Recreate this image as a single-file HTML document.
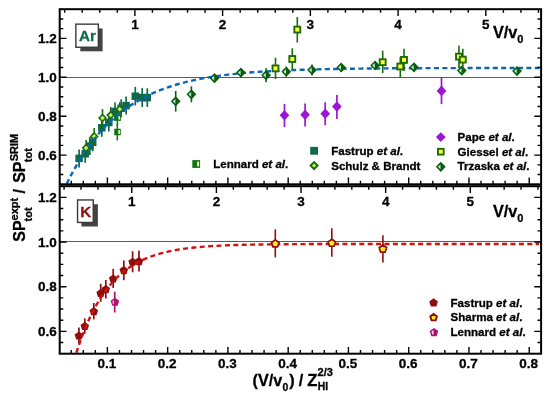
<!DOCTYPE html><html><head><meta charset="utf-8"><title>Stopping power ratio</title><style>html,body{margin:0;padding:0;background:#fff}svg{display:block}</style></head><body><svg width="550" height="397" viewBox="0 0 550 397"><defs><clipPath id="c1"><rect x="59.7" y="9.2" width="481.4" height="175.1"/></clipPath></defs><rect width="550" height="397" fill="#fff"/><path d="M59.7 77.5H541.1M59.7 241.55H541.1" stroke="#5c5c5c" stroke-width="1.1" fill="none"/>
<path d="M79.1 149.4V167.4" stroke="#0f6a4c" stroke-width="1.7"/>
<rect x="75.35" y="154.65" width="7.5" height="7.5" fill="#0f6a4c"/>
<path d="M85.2 144.8V162.8" stroke="#0f6a4c" stroke-width="1.7"/>
<rect x="81.45" y="150.05" width="7.5" height="7.5" fill="#0f6a4c"/>
<path d="M89.8 137.0V155.0" stroke="#0f6a4c" stroke-width="1.7"/>
<rect x="86.05" y="142.25" width="7.5" height="7.5" fill="#0f6a4c"/>
<path d="M92.7 133.3V151.3" stroke="#0f6a4c" stroke-width="1.7"/>
<rect x="88.95" y="138.55" width="7.5" height="7.5" fill="#0f6a4c"/>
<path d="M101.8 118.8V136.8" stroke="#0f6a4c" stroke-width="1.7"/>
<rect x="98.05" y="124.05" width="7.5" height="7.5" fill="#0f6a4c"/>
<path d="M108.8 113.5V131.5" stroke="#0f6a4c" stroke-width="1.7"/>
<rect x="105.05" y="118.75" width="7.5" height="7.5" fill="#0f6a4c"/>
<path d="M115.0 102.5V120.5" stroke="#0f6a4c" stroke-width="1.7"/>
<rect x="111.25" y="107.75" width="7.5" height="7.5" fill="#0f6a4c"/>
<path d="M121.2 99.3V117.3" stroke="#0f6a4c" stroke-width="1.7"/>
<rect x="117.45" y="104.55" width="7.5" height="7.5" fill="#0f6a4c"/>
<path d="M126.1 96.6V114.6" stroke="#0f6a4c" stroke-width="1.7"/>
<rect x="122.35" y="101.85" width="7.5" height="7.5" fill="#0f6a4c"/>
<path d="M135.3 86.9V105.5" stroke="#0f6a4c" stroke-width="1.7"/>
<rect x="131.55" y="92.45" width="7.5" height="7.5" fill="#0f6a4c"/>
<path d="M142.2 88.1V107.1" stroke="#0f6a4c" stroke-width="1.7"/>
<rect x="138.45" y="93.85" width="7.5" height="7.5" fill="#0f6a4c"/>
<path d="M147.3 88.3V106.9" stroke="#0f6a4c" stroke-width="1.7"/>
<rect x="143.55" y="93.85" width="7.5" height="7.5" fill="#0f6a4c"/>
<rect x="114.35" y="114.35" width="6.5" height="6.5" fill="#117410"/>
<rect x="118.38" y="115.65" width="1.62" height="3.90" fill="#fffbd0"/>
<path d="M117.4 109.6V125.6" stroke="#117410" stroke-width="1.5"/>
<rect x="114.25" y="128.75" width="6.5" height="6.5" fill="#117410"/>
<rect x="118.28" y="130.05" width="1.62" height="3.90" fill="#fffbd0"/>
<path d="M117.3 123.6V140.4" stroke="#117410" stroke-width="1.5"/>
<path d="M86.1 140.0V156.0" stroke="#1a6a0e" stroke-width="1.6"/>
<path d="M86.10 144.55L89.50 148.00L86.10 151.45L82.70 148.00Z" fill="#c4f25e" stroke="#1a6a0e" stroke-width="1.6" stroke-linejoin="miter"/>
<path d="M94.2 128.0V145.0" stroke="#1a6a0e" stroke-width="1.6"/>
<path d="M94.20 133.05L97.60 136.50L94.20 139.95L90.80 136.50Z" fill="#c4f25e" stroke="#1a6a0e" stroke-width="1.6" stroke-linejoin="miter"/>
<path d="M102.5 109.0V127.0" stroke="#1a6a0e" stroke-width="1.6"/>
<path d="M102.50 114.55L105.90 118.00L102.50 121.45L99.10 118.00Z" fill="#c4f25e" stroke="#1a6a0e" stroke-width="1.6" stroke-linejoin="miter"/>
<path d="M110.7 107.1V123.1" stroke="#1a6a0e" stroke-width="1.6"/>
<path d="M110.70 111.65L114.10 115.10L110.70 118.55L107.30 115.10Z" fill="#c4f25e" stroke="#1a6a0e" stroke-width="1.6" stroke-linejoin="miter"/>
<path d="M119.7 102.2V116.2" stroke="#1a6a0e" stroke-width="1.6"/>
<path d="M119.70 105.75L123.10 109.20L119.70 112.65L116.30 109.20Z" fill="#c4f25e" stroke="#1a6a0e" stroke-width="1.6" stroke-linejoin="miter"/>
<g clip-path="url(#c1)">
<path d="M66.72 183.71L69.13 178.88L71.55 174.25L73.96 169.82L76.37 165.57L78.78 161.50L81.19 157.60L83.60 153.86L86.01 150.28L88.42 146.84L90.83 143.55L93.24 140.40L95.65 137.38L98.06 134.48L100.47 131.71L102.88 129.05L105.29 126.50L107.70 124.06L110.11 121.72L112.52 119.48L114.93 117.33L117.34 115.27L119.75 113.30L122.16 111.41L124.57 109.59L126.98 107.86L129.39 106.19L131.81 104.60L134.22 103.07L136.63 101.61L139.04 100.20L141.45 98.86L143.86 97.57L146.27 96.33L148.68 95.15L151.09 94.02L153.50 92.93L155.91 91.89L158.32 90.89L160.73 89.93L163.14 89.02L165.55 88.14L167.96 87.30L170.37 86.49L172.78 85.72L175.19 84.98L177.60 84.27L180.01 83.59L182.42 82.93L184.83 82.31L187.24 81.71L189.65 81.14L192.07 80.59L194.48 80.06L196.89 79.56L199.30 79.07L201.71 78.61L204.12 78.16L206.53 77.74L208.94 77.33L211.35 76.94L213.76 76.56L216.17 76.21L218.58 75.86L220.99 75.53L223.40 75.22L225.81 74.91L228.22 74.62L230.63 74.35L233.04 74.08L235.45 73.82L237.86 73.58L240.27 73.34L242.68 73.12L245.09 72.90L247.50 72.70L249.91 72.50L252.33 72.31L254.74 72.13L257.15 71.95L259.56 71.79L261.97 71.63L264.38 71.47L266.79 71.33L269.20 71.19L271.61 71.05L274.02 70.92L276.43 70.80L278.84 70.68L281.25 70.57L283.66 70.46L286.07 70.35L288.48 70.25L290.89 70.16L293.30 70.07L295.71 69.98L298.12 69.89L300.53 69.81L302.94 69.74L305.35 69.66L307.76 69.59L310.17 69.52L312.59 69.46L315.00 69.39L317.41 69.33L319.82 69.28L322.23 69.22L324.64 69.17L327.05 69.12L329.46 69.07L331.87 69.02L334.28 68.98L336.69 68.94L339.10 68.90L341.51 68.86L343.92 68.82L346.33 68.78L348.74 68.75L351.15 68.72L353.56 68.68L355.97 68.65L358.38 68.62L360.79 68.60L363.20 68.57L365.61 68.54L368.02 68.52L370.43 68.50L372.85 68.47L375.26 68.45L377.67 68.43L380.08 68.41L382.49 68.39L384.90 68.37L387.31 68.36L389.72 68.34L392.13 68.32L394.54 68.31L396.95 68.29L399.36 68.28L401.77 68.27L404.18 68.25L406.59 68.24L409.00 68.23L411.41 68.22L413.82 68.21L416.23 68.20L418.64 68.19L421.05 68.18L423.46 68.17L425.87 68.16L428.28 68.15L430.69 68.14L433.11 68.13L435.52 68.13L437.93 68.12L440.34 68.11L442.75 68.11L445.16 68.10L447.57 68.09L449.98 68.09L452.39 68.08L454.80 68.08L457.21 68.07L459.62 68.07L462.03 68.06L464.44 68.06L466.85 68.05L469.26 68.05L471.67 68.05L474.08 68.04L476.49 68.04L478.90 68.04L481.31 68.03L483.72 68.03L486.13 68.03L488.54 68.02L490.95 68.02L493.37 68.02L495.78 68.01L498.19 68.01L500.60 68.01L503.01 68.01L505.42 68.01L507.83 68.00L510.24 68.00L512.65 68.00L515.06 68.00L517.47 68.00L519.88 67.99L522.29 67.99L524.70 67.99L527.11 67.99L529.52 67.99L531.93 67.99L534.34 67.99L536.75 67.98L539.16 67.98" stroke="#0a66b8" stroke-width="2.4" fill="none" stroke-dasharray="5.0 3.4"/>
</g>
<path d="M175.7 91.0V111.6" stroke="#0b5c0b" stroke-width="1.6"/>
<path d="M175.70 96.20L180.60 101.30L175.70 106.40L170.80 101.30Z" fill="#0b5c0b"/>
<path d="M172.80 101.30L175.40 98.90V103.70Z" fill="#b4f0e2"/>
<path d="M191.4 86.3V102.3" stroke="#0b5c0b" stroke-width="1.6"/>
<path d="M191.40 89.20L196.30 94.30L191.40 99.40L186.50 94.30Z" fill="#0b5c0b"/>
<path d="M188.50 94.30L191.10 91.90V96.70Z" fill="#b4f0e2"/>
<path d="M214.5 74.7V81.7" stroke="#0b5c0b" stroke-width="1.6"/>
<path d="M214.50 73.10L219.40 78.20L214.50 83.30L209.60 78.20Z" fill="#0b5c0b"/>
<path d="M211.60 78.20L214.20 75.80V80.60Z" fill="#b4f0e2"/>
<path d="M240.9 69.6V75.6" stroke="#0b5c0b" stroke-width="1.6"/>
<path d="M240.90 67.50L245.80 72.60L240.90 77.70L236.00 72.60Z" fill="#0b5c0b"/>
<path d="M238.00 72.60L240.60 70.20V75.00Z" fill="#b4f0e2"/>
<path d="M266.1 68.2V82.2" stroke="#0b5c0b" stroke-width="1.6"/>
<path d="M266.10 70.10L271.00 75.20L266.10 80.30L261.20 75.20Z" fill="#0b5c0b"/>
<path d="M263.20 75.20L265.80 72.80V77.60Z" fill="#b4f0e2"/>
<path d="M286.3 66.7V76.7" stroke="#0b5c0b" stroke-width="1.6"/>
<path d="M286.30 66.60L291.20 71.70L286.30 76.80L281.40 71.70Z" fill="#0b5c0b"/>
<path d="M283.40 71.70L286.00 69.30V74.10Z" fill="#b4f0e2"/>
<path d="M312.0 64.5V75.5" stroke="#0b5c0b" stroke-width="1.6"/>
<path d="M312.00 64.90L316.90 70.00L312.00 75.10L307.10 70.00Z" fill="#0b5c0b"/>
<path d="M309.10 70.00L311.70 67.60V72.40Z" fill="#b4f0e2"/>
<path d="M341.2 64.5V70.5" stroke="#0b5c0b" stroke-width="1.6"/>
<path d="M341.20 62.40L346.10 67.50L341.20 72.60L336.30 67.50Z" fill="#0b5c0b"/>
<path d="M338.30 67.50L340.90 65.10V69.90Z" fill="#b4f0e2"/>
<path d="M375.1 62.5V68.5" stroke="#0b5c0b" stroke-width="1.6"/>
<path d="M375.10 60.40L380.00 65.50L375.10 70.60L370.20 65.50Z" fill="#0b5c0b"/>
<path d="M372.20 65.50L374.80 63.10V67.90Z" fill="#b4f0e2"/>
<path d="M414.0 64.3V70.3" stroke="#0b5c0b" stroke-width="1.6"/>
<path d="M414.00 62.20L418.90 67.30L414.00 72.40L409.10 67.30Z" fill="#0b5c0b"/>
<path d="M411.10 67.30L413.70 64.90V69.70Z" fill="#b4f0e2"/>
<path d="M461.8 67.6V73.6" stroke="#0b5c0b" stroke-width="1.6"/>
<path d="M461.80 65.50L466.70 70.60L461.80 75.70L456.90 70.60Z" fill="#0b5c0b"/>
<path d="M458.90 70.60L461.50 68.20V73.00Z" fill="#b4f0e2"/>
<path d="M517.0 68.1V74.1" stroke="#0b5c0b" stroke-width="1.6"/>
<path d="M517.00 66.00L521.90 71.10L517.00 76.20L512.10 71.10Z" fill="#0b5c0b"/>
<path d="M514.10 71.10L516.70 68.70V73.50Z" fill="#b4f0e2"/>
<path d="M275.5 57.8V79.0" stroke="#1a6a0e" stroke-width="1.6"/>
<rect x="272.55" y="65.45" width="5.9" height="5.9" fill="#ffff2a" stroke="#1a6a0e" stroke-width="1.9"/>
<path d="M292.3 48.3V69.8" stroke="#1a6a0e" stroke-width="1.6"/>
<rect x="289.35" y="56.05" width="5.9" height="5.9" fill="#ffff2a" stroke="#1a6a0e" stroke-width="1.9"/>
<path d="M297.3 17.0V42.5" stroke="#1a6a0e" stroke-width="1.6"/>
<rect x="294.35" y="26.65" width="5.9" height="5.9" fill="#ffff2a" stroke="#1a6a0e" stroke-width="1.9"/>
<path d="M382.7 50.7V73.1" stroke="#1a6a0e" stroke-width="1.6"/>
<rect x="379.75" y="59.25" width="5.9" height="5.9" fill="#ffff2a" stroke="#1a6a0e" stroke-width="1.9"/>
<path d="M400.3 57.0V77.4" stroke="#1a6a0e" stroke-width="1.6"/>
<rect x="397.35" y="63.55" width="5.9" height="5.9" fill="#ffff2a" stroke="#1a6a0e" stroke-width="1.9"/>
<path d="M404.0 48.7V71.0" stroke="#1a6a0e" stroke-width="1.6"/>
<rect x="401.05" y="56.95" width="5.9" height="5.9" fill="#ffff2a" stroke="#1a6a0e" stroke-width="1.9"/>
<path d="M459.0 45.6V68.0" stroke="#1a6a0e" stroke-width="1.6"/>
<rect x="456.05" y="53.65" width="5.9" height="5.9" fill="#ffff2a" stroke="#1a6a0e" stroke-width="1.9"/>
<path d="M462.8 48.7V69.8" stroke="#1a6a0e" stroke-width="1.6"/>
<rect x="459.85" y="56.65" width="5.9" height="5.9" fill="#ffff2a" stroke="#1a6a0e" stroke-width="1.9"/>
<path d="M284.5 104.0V127.0" stroke="#9b16d2" stroke-width="1.7"/>
<path d="M284.50 109.90L289.30 115.20L284.50 120.50L279.70 115.20Z" fill="#9b16d2"/>
<path d="M305.1 103.5V126.6" stroke="#9b16d2" stroke-width="1.7"/>
<path d="M305.10 109.40L309.90 114.70L305.10 120.00L300.30 114.70Z" fill="#9b16d2"/>
<path d="M325.2 102.3V125.2" stroke="#9b16d2" stroke-width="1.7"/>
<path d="M325.20 108.50L330.00 113.80L325.20 119.10L320.40 113.80Z" fill="#9b16d2"/>
<path d="M336.9 94.9V119.0" stroke="#9b16d2" stroke-width="1.7"/>
<path d="M336.90 101.30L341.70 106.60L336.90 111.90L332.10 106.60Z" fill="#9b16d2"/>
<path d="M441.5 77.4V104.1" stroke="#9b16d2" stroke-width="1.7"/>
<path d="M441.50 85.60L446.30 90.90L441.50 96.20L436.70 90.90Z" fill="#9b16d2"/>
<path d="M78.9 327.4V343.6" stroke="#8e0e0e" stroke-width="1.7"/>
<path d="M78.90 331.40L83.18 334.51L81.55 339.54L76.25 339.54L74.62 334.51Z" fill="#8e0e0e"/>
<path d="M84.8 318.4V333.6" stroke="#8e0e0e" stroke-width="1.7"/>
<path d="M84.80 321.90L89.08 325.01L87.45 330.04L82.15 330.04L80.52 325.01Z" fill="#8e0e0e"/>
<path d="M93.8 303.0V319.4" stroke="#8e0e0e" stroke-width="1.7"/>
<path d="M93.80 307.10L98.08 310.21L96.45 315.24L91.15 315.24L89.52 310.21Z" fill="#8e0e0e"/>
<path d="M100.7 283.8V301.8" stroke="#8e0e0e" stroke-width="1.7"/>
<path d="M100.70 288.80L104.98 291.91L103.35 296.94L98.05 296.94L96.42 291.91Z" fill="#8e0e0e"/>
<path d="M105.8 280.0V298.5" stroke="#8e0e0e" stroke-width="1.7"/>
<path d="M105.80 285.00L110.08 288.11L108.45 293.14L103.15 293.14L101.52 288.11Z" fill="#8e0e0e"/>
<path d="M113.2 268.9V287.9" stroke="#8e0e0e" stroke-width="1.7"/>
<path d="M113.20 274.40L117.48 277.51L115.85 282.54L110.55 282.54L108.92 277.51Z" fill="#8e0e0e"/>
<path d="M123.8 260.4V280.2" stroke="#8e0e0e" stroke-width="1.7"/>
<path d="M123.80 266.00L128.08 269.11L126.45 274.14L121.15 274.14L119.52 269.11Z" fill="#8e0e0e"/>
<path d="M132.6 251.2V272.3" stroke="#8e0e0e" stroke-width="1.7"/>
<path d="M132.60 257.70L136.88 260.81L135.25 265.84L129.95 265.84L128.32 260.81Z" fill="#8e0e0e"/>
<path d="M139.0 250.5V271.6" stroke="#8e0e0e" stroke-width="1.7"/>
<path d="M139.00 257.00L143.28 260.11L141.65 265.14L136.35 265.14L134.72 260.11Z" fill="#8e0e0e"/>
<path d="M114.90 297.70L119.18 300.81L117.55 305.84L112.25 305.84L110.62 300.81Z" fill="#ae1070"/>
<path d="M112.40 301.30L114.40 299.70V304.20H113.10Z" fill="#ffd9ec"/>
<path d="M114.7 291.7V312.5" stroke="#ae1070" stroke-width="1.7"/>
<path d="M76.37 352.75L78.78 345.43L81.19 338.60L83.60 332.23L86.01 326.29L88.42 320.75L90.83 315.58L93.24 310.76L95.65 306.27L98.06 302.08L100.47 298.16L102.88 294.52L105.29 291.11L107.70 287.94L110.11 284.98L112.52 282.22L114.93 279.64L117.34 277.24L119.75 275.00L122.16 272.91L124.57 270.96L126.98 269.14L129.39 267.45L131.81 265.86L134.22 264.39L136.63 263.01L139.04 261.73L141.45 260.53L143.86 259.41L146.27 258.37L148.68 257.40L151.09 256.50L153.50 255.65L155.91 254.86L158.32 254.13L160.73 253.44L163.14 252.80L165.55 252.20L167.96 251.65L170.37 251.13L172.78 250.64L175.19 250.19L177.60 249.77L180.01 249.38L182.42 249.01L184.83 248.67L187.24 248.35L189.65 248.05L192.07 247.78L194.48 247.52L196.89 247.28L199.30 247.05L201.71 246.84L204.12 246.65L206.53 246.46L208.94 246.29L211.35 246.13L213.76 245.99L216.17 245.85L218.58 245.72L220.99 245.60L223.40 245.49L225.81 245.38L228.22 245.28L230.63 245.19L233.04 245.11L235.45 245.03L237.86 244.96L240.27 244.89L242.68 244.82L245.09 244.76L247.50 244.71L249.91 244.65L252.33 244.61L254.74 244.56L257.15 244.52L259.56 244.48L261.97 244.44L264.38 244.41L266.79 244.38L269.20 244.35L271.61 244.32L274.02 244.29L276.43 244.27L278.84 244.25L281.25 244.22L283.66 244.20L286.07 244.19L288.48 244.17L290.89 244.15L293.30 244.14L295.71 244.12L298.12 244.11L300.53 244.10L302.94 244.09L305.35 244.08L307.76 244.07L310.17 244.06L312.59 244.05L315.00 244.04L317.41 244.03L319.82 244.03L322.23 244.02L324.64 244.02L327.05 244.01L329.46 244.00L331.87 244.00L334.28 243.99L336.69 243.99L339.10 243.99L341.51 243.98L343.92 243.98L346.33 243.98L348.74 243.97L351.15 243.97L353.56 243.97L355.97 243.97L358.38 243.96L360.79 243.96L363.20 243.96L365.61 243.96L368.02 243.96L370.43 243.95L372.85 243.95L375.26 243.95L377.67 243.95L380.08 243.95L382.49 243.95L384.90 243.95L387.31 243.95L389.72 243.94L392.13 243.94L394.54 243.94L396.95 243.94L399.36 243.94L401.77 243.94L404.18 243.94L406.59 243.94L409.00 243.94L411.41 243.94L413.82 243.94L416.23 243.94L418.64 243.94L421.05 243.94L423.46 243.94L425.87 243.94L428.28 243.94L430.69 243.94L433.11 243.94L435.52 243.94L437.93 243.93L440.34 243.93L442.75 243.93L445.16 243.93L447.57 243.93L449.98 243.93L452.39 243.93L454.80 243.93L457.21 243.93L459.62 243.93L462.03 243.93L464.44 243.93L466.85 243.93L469.26 243.93L471.67 243.93L474.08 243.93L476.49 243.93L478.90 243.93L481.31 243.93L483.72 243.93L486.13 243.93L488.54 243.93L490.95 243.93L493.37 243.93L495.78 243.93L498.19 243.93L500.60 243.93L503.01 243.93L505.42 243.93L507.83 243.93L510.24 243.93L512.65 243.93L515.06 243.93L517.47 243.93L519.88 243.93L522.29 243.93L524.70 243.93L527.11 243.93L529.52 243.93L531.93 243.93L534.34 243.93L536.75 243.93L539.16 243.93" stroke="#d40f0f" stroke-width="2.4" fill="none" stroke-dasharray="5.0 3.4"/>
<path d="M275.3 229.4V257.4" stroke="#8e0e0e" stroke-width="1.6"/>
<path d="M275.30 239.90L279.01 242.59L277.59 246.96L273.01 246.96L271.59 242.59Z" fill="#ffee1a" stroke="#8e0e0e" stroke-width="1.7" stroke-linejoin="miter"/>
<path d="M331.8 228.2V256.7" stroke="#8e0e0e" stroke-width="1.6"/>
<path d="M331.80 239.20L335.51 241.89L334.09 246.26L329.51 246.26L328.09 241.89Z" fill="#ffee1a" stroke="#8e0e0e" stroke-width="1.7" stroke-linejoin="miter"/>
<path d="M382.9 235.3V262.5" stroke="#8e0e0e" stroke-width="1.6"/>
<path d="M382.90 245.00L386.61 247.69L385.19 252.06L380.61 252.06L379.19 247.69Z" fill="#ffee1a" stroke="#8e0e0e" stroke-width="1.7" stroke-linejoin="miter"/>
<path d="M71.24 184.30L71.24 180.70M83.30 184.30L83.30 180.70M95.35 184.30L95.35 180.70M107.40 184.30L107.40 177.50M119.45 184.30L119.45 180.70M131.50 184.30L131.50 180.70M143.56 184.30L143.56 180.70M155.61 184.30L155.61 180.70M167.66 184.30L167.66 177.50M179.71 184.30L179.71 180.70M191.76 184.30L191.76 180.70M203.82 184.30L203.82 180.70M215.87 184.30L215.87 180.70M227.92 184.30L227.92 177.50M239.97 184.30L239.97 180.70M252.02 184.30L252.02 180.70M264.08 184.30L264.08 180.70M276.13 184.30L276.13 180.70M288.18 184.30L288.18 177.50M300.23 184.30L300.23 180.70M312.28 184.30L312.28 180.70M324.34 184.30L324.34 180.70M336.39 184.30L336.39 180.70M348.44 184.30L348.44 177.50M360.49 184.30L360.49 180.70M372.54 184.30L372.54 180.70M384.60 184.30L384.60 180.70M396.65 184.30L396.65 180.70M408.70 184.30L408.70 177.50M420.75 184.30L420.75 180.70M432.80 184.30L432.80 180.70M444.86 184.30L444.86 180.70M456.91 184.30L456.91 180.70M468.96 184.30L468.96 177.50M481.01 184.30L481.01 180.70M493.06 184.30L493.06 180.70M505.12 184.30L505.12 180.70M517.17 184.30L517.17 180.70M529.22 184.30L529.22 177.50M71.24 353.70L71.24 350.10M83.30 353.70L83.30 350.10M95.35 353.70L95.35 350.10M107.40 353.70L107.40 346.90M119.45 353.70L119.45 350.10M131.50 353.70L131.50 350.10M143.56 353.70L143.56 350.10M155.61 353.70L155.61 350.10M167.66 353.70L167.66 346.90M179.71 353.70L179.71 350.10M191.76 353.70L191.76 350.10M203.82 353.70L203.82 350.10M215.87 353.70L215.87 350.10M227.92 353.70L227.92 346.90M239.97 353.70L239.97 350.10M252.02 353.70L252.02 350.10M264.08 353.70L264.08 350.10M276.13 353.70L276.13 350.10M288.18 353.70L288.18 346.90M300.23 353.70L300.23 350.10M312.28 353.70L312.28 350.10M324.34 353.70L324.34 350.10M336.39 353.70L336.39 350.10M348.44 353.70L348.44 346.90M360.49 353.70L360.49 350.10M372.54 353.70L372.54 350.10M384.60 353.70L384.60 350.10M396.65 353.70L396.65 350.10M408.70 353.70L408.70 346.90M420.75 353.70L420.75 350.10M432.80 353.70L432.80 350.10M444.86 353.70L444.86 350.10M456.91 353.70L456.91 350.10M468.96 353.70L468.96 346.90M481.01 353.70L481.01 350.10M493.06 353.70L493.06 350.10M505.12 353.70L505.12 350.10M517.17 353.70L517.17 350.10M529.22 353.70L529.22 346.90M64.69 9.20L64.69 12.80M82.23 9.20L82.23 12.80M99.78 9.20L99.78 12.80M117.33 9.20L117.33 12.80M134.88 9.20L134.88 16.00M152.42 9.20L152.42 12.80M169.97 9.20L169.97 12.80M187.52 9.20L187.52 12.80M205.07 9.20L205.07 12.80M222.61 9.20L222.61 16.00M240.16 9.20L240.16 12.80M257.71 9.20L257.71 12.80M275.26 9.20L275.26 12.80M292.80 9.20L292.80 12.80M310.35 9.20L310.35 16.00M327.90 9.20L327.90 12.80M345.44 9.20L345.44 12.80M362.99 9.20L362.99 12.80M380.54 9.20L380.54 12.80M398.09 9.20L398.09 16.00M415.63 9.20L415.63 12.80M433.18 9.20L433.18 12.80M450.73 9.20L450.73 12.80M468.28 9.20L468.28 12.80M485.82 9.20L485.82 16.00M503.37 9.20L503.37 12.80M520.92 9.20L520.92 12.80M538.46 9.20L538.46 12.80M64.07 186.20L64.07 189.80M80.99 186.20L80.99 189.80M97.92 186.20L97.92 189.80M114.84 186.20L114.84 189.80M131.77 186.20L131.77 193.00M148.70 186.20L148.70 189.80M165.62 186.20L165.62 189.80M182.55 186.20L182.55 189.80M199.47 186.20L199.47 189.80M216.40 186.20L216.40 193.00M233.33 186.20L233.33 189.80M250.25 186.20L250.25 189.80M267.18 186.20L267.18 189.80M284.11 186.20L284.11 189.80M301.03 186.20L301.03 193.00M317.96 186.20L317.96 189.80M334.88 186.20L334.88 189.80M351.81 186.20L351.81 189.80M368.74 186.20L368.74 189.80M385.66 186.20L385.66 193.00M402.59 186.20L402.59 189.80M419.51 186.20L419.51 189.80M436.44 186.20L436.44 189.80M453.37 186.20L453.37 189.80M470.29 186.20L470.29 193.00M487.22 186.20L487.22 189.80M504.14 186.20L504.14 189.80M521.07 186.20L521.07 189.80M538.00 186.20L538.00 189.80M59.70 174.57L63.30 174.57M541.10 174.57L537.50 174.57M59.70 164.84L63.30 164.84M541.10 164.84L537.50 164.84M59.70 155.12L66.50 155.12M541.10 155.12L534.30 155.12M59.70 145.39L63.30 145.39M541.10 145.39L537.50 145.39M59.70 135.66L63.30 135.66M541.10 135.66L537.50 135.66M59.70 125.93L63.30 125.93M541.10 125.93L537.50 125.93M59.70 116.21L66.50 116.21M541.10 116.21L534.30 116.21M59.70 106.48L63.30 106.48M541.10 106.48L537.50 106.48M59.70 96.75L63.30 96.75M541.10 96.75L537.50 96.75M59.70 87.02L63.30 87.02M541.10 87.02L537.50 87.02M59.70 77.29L66.50 77.29M541.10 77.29L534.30 77.29M59.70 67.57L63.30 67.57M541.10 67.57L537.50 67.57M59.70 57.84L63.30 57.84M541.10 57.84L537.50 57.84M59.70 48.11L63.30 48.11M541.10 48.11L537.50 48.11M59.70 38.38L66.50 38.38M541.10 38.38L534.30 38.38M59.70 28.66L63.30 28.66M541.10 28.66L537.50 28.66M59.70 18.93L63.30 18.93M541.10 18.93L537.50 18.93M59.70 342.53L63.30 342.53M541.10 342.53L537.50 342.53M59.70 331.37L66.50 331.37M541.10 331.37L534.30 331.37M59.70 320.20L63.30 320.20M541.10 320.20L537.50 320.20M59.70 309.03L63.30 309.03M541.10 309.03L537.50 309.03M59.70 297.87L63.30 297.87M541.10 297.87L537.50 297.87M59.70 286.70L66.50 286.70M541.10 286.70L534.30 286.70M59.70 275.53L63.30 275.53M541.10 275.53L537.50 275.53M59.70 264.37L63.30 264.37M541.10 264.37L537.50 264.37M59.70 253.20L63.30 253.20M541.10 253.20L537.50 253.20M59.70 242.03L66.50 242.03M541.10 242.03L534.30 242.03M59.70 230.87L63.30 230.87M541.10 230.87L537.50 230.87M59.70 219.70L63.30 219.70M541.10 219.70L537.50 219.70M59.70 208.53L63.30 208.53M541.10 208.53L537.50 208.53M59.70 197.37L66.50 197.37M541.10 197.37L534.30 197.37" stroke="#000" stroke-width="1.4" fill="none"/>
<rect x="59.7" y="9.2" width="481.40" height="175.10" fill="none" stroke="#000" stroke-width="2.0"/>
<rect x="59.7" y="186.2" width="481.40" height="167.50" fill="none" stroke="#000" stroke-width="2.0"/>
<rect x="80.3" y="28.4" width="22.3" height="22.9" fill="#444"/>
<rect x="75.85000000000001" y="24.15" width="22.5" height="23.1" fill="#fff" stroke="#3a3a3a" stroke-width="1.4"/>
<rect x="81.4" y="204.2" width="16.5" height="22.3" fill="#444"/>
<rect x="77.55000000000001" y="199.95000000000002" width="15.7" height="22.5" fill="#fff" stroke="#3a3a3a" stroke-width="1.4"/>
<g font-family="Liberation Sans, Arial, Helvetica, sans-serif" font-weight="bold">
<text x="87.4" y="40.9" font-size="15.2" text-anchor="middle" fill="#0f6a4c" stroke="#0f6a4c" stroke-width="0.3" >Ar</text>
<text x="85.7" y="216.6" font-size="15.2" text-anchor="middle" fill="#8e0e0e" stroke="#8e0e0e" stroke-width="0.3" >K</text>
<text x="56.7" y="42.9" font-size="13.5" text-anchor="end" fill="#000" stroke="#000" stroke-width="0.3" >1.2</text>
<text x="56.7" y="81.8" font-size="13.5" text-anchor="end" fill="#000" stroke="#000" stroke-width="0.3" >1.0</text>
<text x="56.7" y="120.7" font-size="13.5" text-anchor="end" fill="#000" stroke="#000" stroke-width="0.3" >0.8</text>
<text x="56.7" y="159.6" font-size="13.5" text-anchor="end" fill="#000" stroke="#000" stroke-width="0.3" >0.6</text>
<text x="56.7" y="201.9" font-size="13.5" text-anchor="end" fill="#000" stroke="#000" stroke-width="0.3" >1.2</text>
<text x="56.7" y="246.5" font-size="13.5" text-anchor="end" fill="#000" stroke="#000" stroke-width="0.3" >1.0</text>
<text x="56.7" y="291.2" font-size="13.5" text-anchor="end" fill="#000" stroke="#000" stroke-width="0.3" >0.8</text>
<text x="56.7" y="335.9" font-size="13.5" text-anchor="end" fill="#000" stroke="#000" stroke-width="0.3" >0.6</text>
<text x="106.8" y="367.8" font-size="13.5" text-anchor="middle" fill="#000" stroke="#000" stroke-width="0.3" >0.1</text>
<text x="167.1" y="367.8" font-size="13.5" text-anchor="middle" fill="#000" stroke="#000" stroke-width="0.3" >0.2</text>
<text x="227.3" y="367.8" font-size="13.5" text-anchor="middle" fill="#000" stroke="#000" stroke-width="0.3" >0.3</text>
<text x="287.6" y="367.8" font-size="13.5" text-anchor="middle" fill="#000" stroke="#000" stroke-width="0.3" >0.4</text>
<text x="347.8" y="367.8" font-size="13.5" text-anchor="middle" fill="#000" stroke="#000" stroke-width="0.3" >0.5</text>
<text x="408.1" y="367.8" font-size="13.5" text-anchor="middle" fill="#000" stroke="#000" stroke-width="0.3" >0.6</text>
<text x="468.4" y="367.8" font-size="13.5" text-anchor="middle" fill="#000" stroke="#000" stroke-width="0.3" >0.7</text>
<text x="528.6" y="367.8" font-size="13.5" text-anchor="middle" fill="#000" stroke="#000" stroke-width="0.3" >0.8</text>
<text x="134.9" y="29.4" font-size="13.5" text-anchor="middle" fill="#000" stroke="#000" stroke-width="0.3" >1</text>
<text x="131.8" y="205.6" font-size="13.5" text-anchor="middle" fill="#000" stroke="#000" stroke-width="0.3" >1</text>
<text x="222.6" y="29.4" font-size="13.5" text-anchor="middle" fill="#000" stroke="#000" stroke-width="0.3" >2</text>
<text x="216.4" y="205.6" font-size="13.5" text-anchor="middle" fill="#000" stroke="#000" stroke-width="0.3" >2</text>
<text x="310.3" y="29.4" font-size="13.5" text-anchor="middle" fill="#000" stroke="#000" stroke-width="0.3" >3</text>
<text x="301.0" y="205.6" font-size="13.5" text-anchor="middle" fill="#000" stroke="#000" stroke-width="0.3" >3</text>
<text x="398.1" y="29.4" font-size="13.5" text-anchor="middle" fill="#000" stroke="#000" stroke-width="0.3" >4</text>
<text x="385.7" y="205.6" font-size="13.5" text-anchor="middle" fill="#000" stroke="#000" stroke-width="0.3" >4</text>
<text x="485.8" y="29.4" font-size="13.5" text-anchor="middle" fill="#000" stroke="#000" stroke-width="0.3" >5</text>
<text x="470.3" y="205.6" font-size="13.5" text-anchor="middle" fill="#000" stroke="#000" stroke-width="0.3" >5</text>
<text x="492.9" y="38.4" font-size="16.3" stroke="#000" stroke-width="0.3">V/v<tspan font-size="11" dy="5">0</tspan></text>
<text x="492.9" y="216.9" font-size="16.3" stroke="#000" stroke-width="0.3">V/v<tspan font-size="11" dy="5">0</tspan></text>
<text x="213.2" y="168.2" font-size="11.55" text-anchor="start" fill="#000" stroke="#000" stroke-width="0.3" >Lennard <tspan font-style="italic">et al</tspan>.</text>
<text x="331.2" y="155.0" font-size="11.55" text-anchor="start" fill="#000" stroke="#000" stroke-width="0.3" >Fastrup <tspan font-style="italic">et al</tspan>.</text>
<text x="331.2" y="169.9" font-size="11.55" text-anchor="start" fill="#000" stroke="#000" stroke-width="0.3" >Schulz &amp; Brandt</text>
<text x="457.6" y="140.8" font-size="11.55" text-anchor="start" fill="#000" stroke="#000" stroke-width="0.3" >Pape <tspan font-style="italic">et al</tspan>.</text>
<text x="457.6" y="155.7" font-size="11.55" text-anchor="start" fill="#000" stroke="#000" stroke-width="0.3" >Giessel <tspan font-style="italic">et al</tspan>.</text>
<text x="457.6" y="170.4" font-size="11.55" text-anchor="start" fill="#000" stroke="#000" stroke-width="0.3" >Trzaska <tspan font-style="italic">et al</tspan>.</text>
<text x="450.5" y="306.6" font-size="11.55" text-anchor="start" fill="#000" stroke="#000" stroke-width="0.3" >Fastrup <tspan font-style="italic">et al</tspan>.</text>
<text x="450.5" y="321.2" font-size="11.55" text-anchor="start" fill="#000" stroke="#000" stroke-width="0.3" >Sharma <tspan font-style="italic">et al</tspan>.</text>
<text x="450.5" y="336.1" font-size="11.55" text-anchor="start" fill="#000" stroke="#000" stroke-width="0.3" >Lennard <tspan font-style="italic">et al</tspan>.</text>
<text x="252.5" y="386.0" font-size="16.2" text-anchor="start" fill="#000" stroke="#000" stroke-width="0.3" >(V/v</text>
<text x="282.5" y="390.6" font-size="10.3" text-anchor="start" fill="#000" stroke="#000" stroke-width="0.3" >0</text>
<text x="289.2" y="386.0" font-size="16.2" text-anchor="start" fill="#000" stroke="#000" stroke-width="0.3" >)</text>
<text x="298.8" y="386.0" font-size="16.2" text-anchor="start" fill="#000" stroke="#000" stroke-width="0.3" >/</text>
<text x="307.3" y="385.9" font-size="16.6" text-anchor="start" fill="#000" stroke="#000" stroke-width="0.3" >Z</text>
<text x="317.6" y="376.0" font-size="11" text-anchor="start" fill="#000" stroke="#000" stroke-width="0.3" >2/3</text>
<text x="317.8" y="390.1" font-size="10.3" text-anchor="start" fill="#000" stroke="#000" stroke-width="0.3" >HI</text>
<g transform="translate(25.2,241.4) rotate(-90)">
<text x="-0.3" y="0" font-size="16" text-anchor="start" fill="#000" stroke="#000" stroke-width="0.3" >SP</text>
<text x="21.0" y="-7.6" font-size="11" text-anchor="start" fill="#000" stroke="#000" stroke-width="0.3" >expt</text>
<text x="20.0" y="7.0" font-size="11" text-anchor="start" fill="#000" stroke="#000" stroke-width="0.3" >tot</text>
<text x="48.0" y="0" font-size="16" text-anchor="start" fill="#000" stroke="#000" stroke-width="0.3" >/</text>
<text x="58.6" y="0" font-size="16" text-anchor="start" fill="#000" stroke="#000" stroke-width="0.3" >SP</text>
<text x="80.2" y="-7.6" font-size="11" text-anchor="start" fill="#000" stroke="#000" stroke-width="0.3" >SRIM</text>
<text x="79.2" y="7.0" font-size="11" text-anchor="start" fill="#000" stroke="#000" stroke-width="0.3" >tot</text>
</g>
</g>
<rect x="192.30" y="160.10" width="7.8" height="7.8" fill="#117410"/>
<rect x="197.14" y="161.66" width="1.95" height="4.68" fill="#fffbd0"/>
<rect x="310.20" y="146.90" width="7.8" height="7.8" fill="#0f6a4c"/>
<path d="M314.10 162.15L317.55 165.60L314.10 169.05L310.65 165.60Z" fill="#c4f25e" stroke="#1a6a0e" stroke-width="2.0" stroke-linejoin="miter"/>
<path d="M440.80 132.20L445.65 137.10L440.80 142.00L435.95 137.10Z" fill="#9b16d2"/>
<rect x="437.95" y="148.85" width="5.7" height="5.7" fill="#ffff2a" stroke="#1a6a0e" stroke-width="1.9"/>
<path d="M440.80 161.70L445.70 166.80L440.80 171.90L435.90 166.80Z" fill="#0b5c0b"/>
<path d="M437.90 166.80L440.50 164.40V169.20Z" fill="#b4f0e2"/>
<path d="M433.60 298.20L437.97 301.38L436.30 306.52L430.90 306.52L429.23 301.38Z" fill="#8e0e0e"/>
<path d="M433.60 314.00L436.93 316.42L435.66 320.33L431.54 320.33L430.27 316.42Z" fill="#ffee1a" stroke="#8e0e0e" stroke-width="1.9" stroke-linejoin="miter"/>
<path d="M434.00 328.00L438.28 331.11L436.65 336.14L431.35 336.14L429.72 331.11Z" fill="#ae1070"/>
<path d="M431.50 331.60L433.50 330.00V334.50H432.20Z" fill="#ffd9ec"/></svg></body></html>
